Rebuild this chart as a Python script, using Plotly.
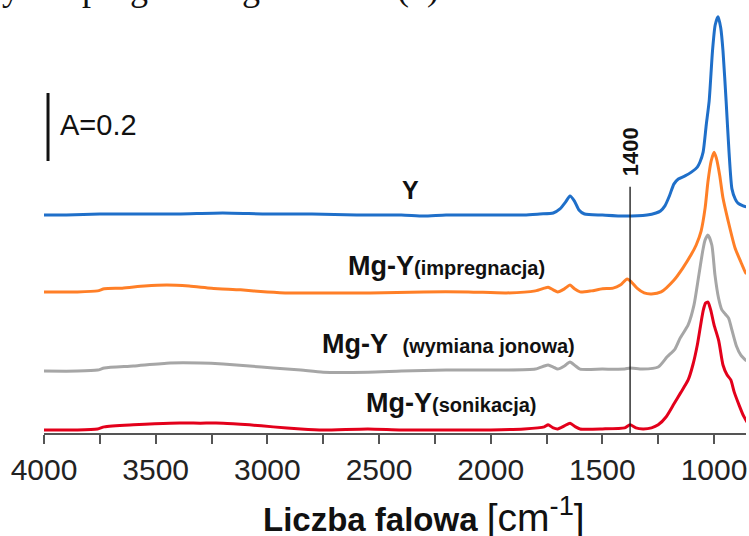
import plotly.graph_objects as go

# ---- data (stacked spectra, absorbance units incl. offsets) ----
wn_Y = [4000, 3900, 3750, 3600, 3400, 3200, 3000, 2800, 2600, 2400, 2300, 2200, 2000, 1850, 1780,
        1720, 1690, 1665, 1645, 1625, 1605, 1580, 1500, 1400, 1300, 1260, 1240, 1220, 1200, 1180,
        1160, 1130, 1100, 1075, 1063, 1049, 1035, 1022, 1007, 995, 982, 970, 960, 946, 933, 920,
        905, 893, 870, 855]
A_Y = [0.641, 0.641, 0.644, 0.644, 0.644, 0.647, 0.644, 0.644, 0.641, 0.641, 0.638, 0.641, 0.641, 0.641, 0.644,
       0.647, 0.659, 0.679, 0.697, 0.682, 0.656, 0.644, 0.641, 0.638, 0.641, 0.647, 0.653, 0.668, 0.697, 0.732,
       0.747, 0.756, 0.768, 0.782, 0.797, 0.826, 0.906, 0.976, 1.124, 1.200, 1.224, 1.191, 1.124, 0.976, 0.826, 0.718,
       0.688, 0.676, 0.668, 0.665]

wn_imp = [4000, 3850, 3760, 3730, 3650, 3550, 3450, 3350, 3250, 3120, 3000, 2900, 2700, 2540, 2300,
          2100, 1930, 1800, 1760, 1743, 1720, 1700, 1670, 1645, 1625, 1600, 1550, 1500, 1452, 1420,
          1389, 1370, 1345, 1313, 1280, 1237, 1179, 1140, 1103, 1080, 1058, 1040, 1027, 1013, 1000,
          990, 975, 960, 937, 906, 880, 861, 855]
A_imp = [0.415, 0.415, 0.418, 0.424, 0.426, 0.432, 0.435, 0.432, 0.426, 0.421, 0.415, 0.412, 0.412, 0.412, 0.415,
         0.415, 0.412, 0.418, 0.426, 0.429, 0.421, 0.415, 0.424, 0.435, 0.424, 0.415, 0.418, 0.424, 0.426, 0.435,
         0.453, 0.444, 0.426, 0.412, 0.409, 0.415, 0.450, 0.485, 0.524, 0.553, 0.594, 0.662, 0.741, 0.800, 0.826,
         0.809, 0.759, 0.691, 0.624, 0.544, 0.503, 0.474, 0.468]

wn_ion = [4000, 3850, 3760, 3730, 3600, 3436, 3300, 3198, 3080, 2974, 2850, 2750, 2550, 2400, 2200,
          1958, 1800, 1760, 1743, 1720, 1700, 1670, 1645, 1620, 1600, 1500, 1400, 1376, 1320, 1250,
          1210, 1175, 1152, 1116, 1090, 1068, 1050, 1040, 1027, 1010, 996, 980, 965, 950, 935, 920,
          900, 880, 855]
A_ion = [0.182, 0.182, 0.185, 0.191, 0.197, 0.206, 0.206, 0.203, 0.197, 0.191, 0.185, 0.179, 0.179, 0.182, 0.185,
         0.185, 0.188, 0.197, 0.200, 0.194, 0.188, 0.197, 0.209, 0.197, 0.188, 0.188, 0.188, 0.191, 0.188, 0.194,
         0.224, 0.247, 0.279, 0.318, 0.376, 0.465, 0.538, 0.568, 0.582, 0.553, 0.465, 0.397, 0.362, 0.350, 0.338, 0.303,
         0.256, 0.229, 0.212]

wn_son = [4000, 3850, 3760, 3730, 3600, 3436, 3300, 3198, 3080, 2974, 2850, 2750, 2550, 2400, 2200,
          2000, 1850, 1760, 1743, 1720, 1700, 1670, 1645, 1620, 1600, 1500, 1400, 1376, 1350, 1318,
          1280, 1250, 1215, 1180, 1150, 1116, 1095, 1075, 1060, 1048, 1038, 1027, 1015, 1000, 979,
          960, 942, 925, 910, 888, 870, 852]
A_son = [0.009, 0.009, 0.012, 0.018, 0.024, 0.029, 0.029, 0.029, 0.024, 0.018, 0.012, 0.009, 0.012, 0.009, 0.009,
         0.009, 0.012, 0.018, 0.024, 0.015, 0.012, 0.021, 0.029, 0.018, 0.012, 0.012, 0.015, 0.024, 0.015, 0.012,
         0.015, 0.024, 0.047, 0.085, 0.118, 0.156, 0.200, 0.259, 0.318, 0.362, 0.382, 0.385, 0.362, 0.318, 0.271,
         0.200, 0.171, 0.156, 0.121, 0.082, 0.053, 0.032]

x_ticks = [4000, 3500, 3000, 2500, 2000, 1500, 1000]
x_tick_labels = ["4000", "3500", "3000", "2500", "2000", "1500", "1000"]
marker_pos = 1376          # position of the marked band line
marker_label = "1400"
scale_bar = 0.2            # absorbance scale bar
scale_base = 0.80

series = [
    (wn_Y, A_Y, "#1f6fc9"),
    (wn_imp, A_imp, "#ff7f27"),
    (wn_ion, A_ion, "#a6a6a6"),
    (wn_son, A_son, "#e3001b"),
]

fig = go.Figure()
for wn, a, col in series:
    fig.add_trace(go.Scatter(x=wn, y=a, mode="lines", line=dict(color=col, width=3, shape="spline", smoothing=0.6),
                             showlegend=False, hoverinfo="skip"))

# marker line
fig.add_trace(go.Scatter(x=[marker_pos, marker_pos], y=[0, 0.724], mode="lines",
                         line=dict(color="#111111", width=1.3), showlegend=False, hoverinfo="skip"))
# scale bar
fig.add_trace(go.Scatter(x=[3982, 3982], y=[scale_base, scale_base + scale_bar], mode="lines",
                         line=dict(color="#111111", width=3), showlegend=False, hoverinfo="skip"))

F = "Liberation Sans, Arial, sans-serif"
ann = [
    dict(x=3756, y=0.906, text="A=0.2", font=dict(size=29, color="#111111", family=F)),
    dict(x=marker_pos, y=0.826, text="<b>" + marker_label + "</b>", textangle=-90,
         font=dict(size=22, color="#111111", family=F)),
    dict(x=2361, y=0.715, text="<b>Y</b>", font=dict(size=25, color="#111111", family=F)),
    dict(x=2200, y=0.491, text="<b>Mg-Y</b><span style='font-size:20px'><b>(impregnacja)</b></span>",
         font=dict(size=27, color="#111111", family=F)),
    dict(x=2191, y=0.262, text="<b>Mg-Y  </b><span style='font-size:20px'><b>(wymiana jonowa)</b></span>",
         font=dict(size=27, color="#111111", family=F)),
    dict(x=2177, y=0.088, text="<b>Mg-Y</b><span style='font-size:20px'><b>(sonikacja)</b></span>",
         font=dict(size=27, color="#111111", family=F)),
]
for a in ann:
    a.update(xref="x", yref="y", showarrow=False, xanchor="center", yanchor="middle")
    fig.add_annotation(**a)

# axis title
fig.add_annotation(xref="paper", yref="paper", x=0.541, y=-0.189, xanchor="center", yanchor="middle",
                   showarrow=False,
                   text="<b>Liczba falowa</b> <span style='font-size:39px'>[cm<sup>-1</sup>]</span>",
                   font=dict(size=33, color="#111111", family=F))
# cut-off body text at the top of the page
fig.add_annotation(xref="paper", yref="paper", x=-0.0627, y=1.0, xanchor="left", yanchor="bottom", yshift=-10,
                   showarrow=False, text="yau i progowanego a stanu (u) modu",
                   font=dict(size=36, color="#111111", family="Liberation Serif, Times New Roman, serif"))

fig.update_layout(
    width=749, height=536, margin=dict(l=44, r=3, t=0, b=103),
    paper_bgcolor="white", plot_bgcolor="white",
    xaxis=dict(range=[4000, 857], tickvals=x_ticks, ticktext=x_tick_labels, showgrid=False, zeroline=False,
               showline=True, linecolor="#555555", linewidth=1.5, ticks="outside", ticklen=9,
               tickwidth=1.5, tickcolor="#555555", tickfont=dict(size=30, color="#222222", family=F),
               minor=dict(dtick=250, ticks="outside", ticklen=9, tickwidth=1.5, tickcolor="#555555")),
    yaxis=dict(range=[0, 1.2735], visible=False),
)
fig.write_html("out.html")
